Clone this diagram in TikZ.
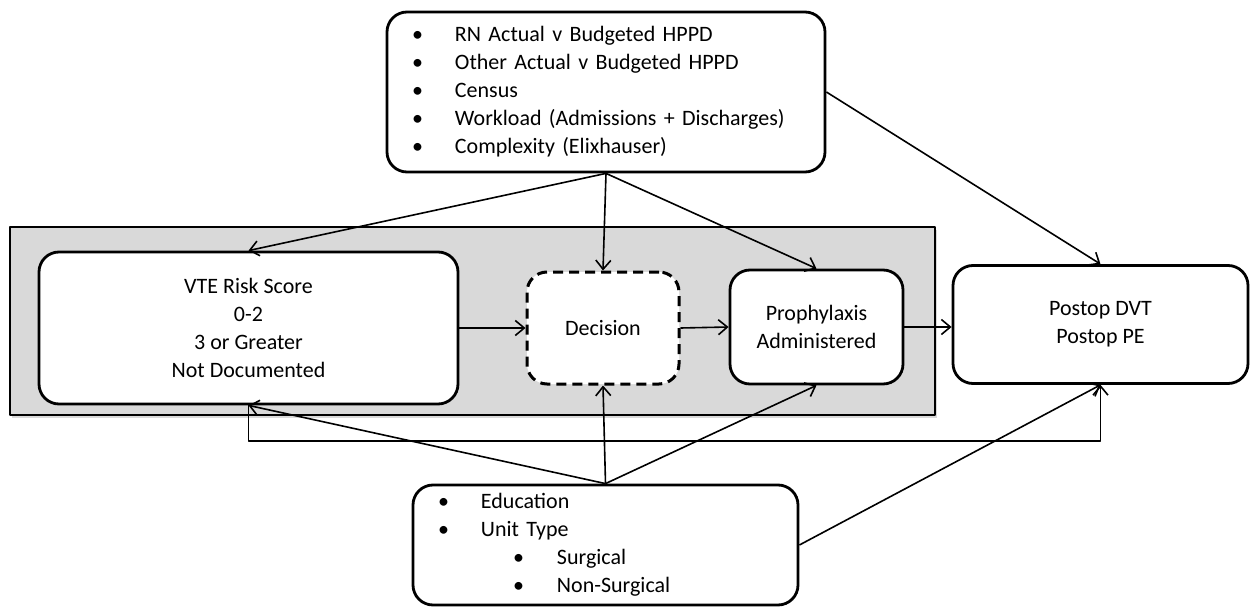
\documentclass[tikz,border=0pt]{standalone}
\usepackage{fontspec}
\setmainfont{Carlito}
\usetikzlibrary{arrows.meta,shadows}

\newcommand{\bul}[1]{\makebox[43pt][l]{\textbullet}#1}
\newcommand{\subbul}[1]{\hspace*{75pt}\makebox[44pt][l]{\textbullet}#1}

\begin{document}
\begin{tikzpicture}[x=1pt, y=-1pt,
                    >={Straight Barb[length=9pt,width=15pt]},
                    line join=round,
                    ]
    \tikzstyle{box}=[draw, rounded corners=20pt, line width=2.8pt, fill=white, align=center, font=\fontsize{22}{28}\selectfont]
    \tikzstyle{listbox}=[box, align=left, inner xsep=25pt];
    \tikzstyle{decisionbox}=[box, dash pattern=on 10pt off 6pt, line width=3pt];
    \tikzstyle{panel}=[draw, fill=black!15, line width=2pt, drop shadow={shadow xshift=2pt, shadow yshift=-3pt, opacity=0.3}];
    \tikzstyle{link}=[->, line width=1.6pt];

    \useasboundingbox (0,0) rectangle (1253,607);

    % grey stage behind the process
    \node[panel, minimum width=925pt, minimum height=188pt] (stage) at (472.5,321) {};

    \node[box, minimum width=419pt, minimum height=152pt] (vte) at (248.5,328) {VTE Risk Score\\0-2\\3 or Greater\\Not Documented};
    \node[decisionbox, minimum width=152pt, minimum height=112pt] (dec) at (603,328) {Decision};
    \node[box, minimum width=173pt, minimum height=114pt] (proph) at (816.5,327) {Prophylaxis\\Administered};
    \node[box, minimum width=295pt, minimum height=118pt] (postop) at (1100.5,324.5) {Postop DVT\\Postop PE};

    \node[listbox, text width=388pt, minimum height=160pt] (staff) at (606,92)
        {\bul{RN Actual v Budgeted HPPD}\\
         \bul{Other Actual v Budgeted HPPD}\\
         \bul{Census}\\
         \bul{Workload (Admissions + Discharges)}\\
         \bul{Complexity (Elixhauser)}};
    \node[listbox, text width=335pt, minimum height=120pt] (edu) at (605.5,545)
        {\bul{Education}\\
         \bul{Unit Type}\\
         \subbul{Surgical}\\
         \subbul{Non-Surgical}};

    \coordinate (low) at (0,441);

    \draw[link] (staff.south) -- (vte.north);
    \draw[link] (staff.south) -- (dec.north);
    \draw[link] (staff.south) -- (proph.north);
    \draw[link] (staff.east) -- (postop.north);

    \draw[link] (vte.east) -- (vte.east -| dec.west);
    \draw[link] (dec.east) -- (proph.west);
    \draw[link] (proph.east) -- (proph.east -| postop.west);

    \draw[link] (edu.north) -- (vte.south);
    \draw[link] (edu.north) -- (dec.south);
    \draw[link] (edu.north) -- (proph.south);
    \draw[link] (edu.east) -- (postop.south);
    \draw[link] (vte.south) -- (vte.south |- low) -| (postop.south);
\end{tikzpicture}
\end{document}
